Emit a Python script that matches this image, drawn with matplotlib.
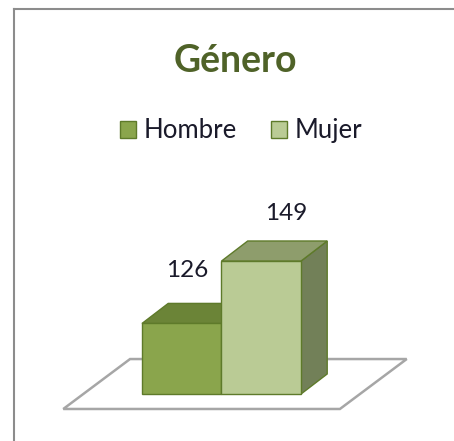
import matplotlib.pyplot as plt
from matplotlib.patches import Polygon, Patch

categories = ['Hombre', 'Mujer']
values = [126, 149]
base = 100

front = ['#8aa54c', '#bacb95']
top = ['#6b8437', '#8e9d6c']
side = ['#5f7630', '#728058']
edge = '#5e7a2a'

fig = plt.figure(figsize=(4.54, 4.41), dpi=100)
ax = fig.add_axes([0, 0, 1, 1])
ax.set_xlim(-2.286, 3.425)
ax.set_ylim(82.7, 245.2)
ax.axis('off')

# chart border (left and top visible)
fig.add_artist(plt.Line2D([14/454, 14/454], [0, 1-9/441], color='#8c8c8c', lw=1.5))
fig.add_artist(plt.Line2D([14/454, 1], [1-9/441, 1-9/441], color='#8c8c8c', lw=1.5))

w = 1.0
dx, dy = 0.33, 7.4

# floor
x0, x1 = -1.49, 1.99
fy0, fy1 = base - 5.5, base + 12.9
fdx = 0.84
ax.add_patch(Polygon([(x0, fy0), (x1, fy0), (x1 + fdx, fy1), (x0 + fdx, fy1)],
                     closed=True, fc='white', ec='#a6a6a6', lw=1.8, zorder=1))

lab_dx = [0.07, 0.32]
lab_dy = [12.0, 10.3]
for i, v in enumerate(values):
    l, r = i - w/2, i + w/2
    ax.add_patch(Polygon([(r, base), (r + dx, base + dy), (r + dx, v + dy), (r, v)],
                         fc=side[i], ec=edge, lw=1, zorder=2 + i))
    ax.add_patch(Polygon([(l, v), (r, v), (r + dx, v + dy), (l + dx, v + dy)],
                         fc=top[i], ec=edge, lw=1, zorder=2 + i))
    ax.add_patch(Polygon([(l, base), (r, base), (r, v), (l, v)],
                         fc=front[i], ec=edge, lw=1, zorder=2 + i))
    ax.text(i + lab_dx[i], v + dy + lab_dy[i], str(v), ha='center', va='center',
            fontsize=17.5, family='Lato', color='#1a1a2a', zorder=5)

fig.text(0.518, 0.862, 'Género', ha='center', va='center', fontsize=27,
         fontweight='bold', family='Lato', color='#4f6228')

handles = [Patch(fc=front[i], ec=edge, lw=1) for i in range(2)]
fig.legend(handles, categories, loc='center', bbox_to_anchor=(0.531, 0.703),
           ncol=2, frameon=False, handlelength=0.62, handleheight=0.62,
           handletextpad=0.3, columnspacing=1.35,
           prop={'family': 'Lato', 'size': 18.5}, labelcolor='#1a1a2a')

fig.savefig('out.png', dpi=100)
